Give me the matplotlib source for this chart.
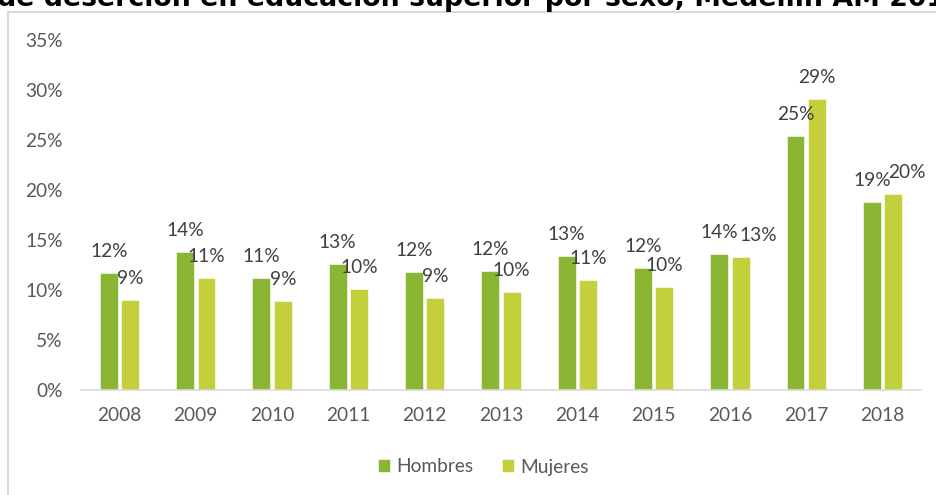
import matplotlib.pyplot as plt
from matplotlib.patches import Rectangle
import numpy as np

# Data
years = ['2008', '2009', '2010', '2011', '2012', '2013', '2014', '2015', '2016', '2017', '2018']
hombres = [11.7, 13.8, 11.2, 12.6, 11.8, 11.9, 13.4, 12.2, 13.6, 25.4, 18.8]
mujeres = [9.0, 11.2, 8.9, 10.1, 9.2, 9.8, 11.0, 10.3, 13.3, 29.1, 19.6]
labels_h = ['12%', '14%', '11%', '13%', '12%', '12%', '13%', '12%', '14%', '25%', '19%']
labels_m = ['9%', '11%', '9%', '10%', '9%', '10%', '11%', '10%', '13%', '29%', '20%']
yticks = [0, 5, 10, 15, 20, 25, 30, 35]

c_h = '#8BB634'
c_m = '#C3D03C'
txt = '#595959'

plt.rcParams['font.family'] = ['Lato', 'DejaVu Sans']

fig = plt.figure(figsize=(9.36, 4.95), dpi=100)

# chart border (partially outside the image)
fig.patches.append(Rectangle((8 / 936, -0.1), 1.2, 1 - 12 / 495 + 0.1,
                             transform=fig.transFigure, fill=False,
                             edgecolor='#D9D9D9', linewidth=1.5))

# title, cropped by the image top edge
fig.text(-3 / 936, 1 - 5.5 / 495, 'de deserción en educación superior por sexo, Medellín AM 201',
         ha='left', va='baseline', fontsize=19.3, fontweight='bold',
         family='DejaVu Sans', color='black')

ax = fig.add_axes([81.35 / 936, 1 - 390 / 495, 839.3 / 936, 350 / 495])

x = np.arange(len(years))
w = 0.235
off = 0.14
b1 = ax.bar(x - off, hombres, w, color=c_h, edgecolor='white', linewidth=0.4, label='Hombres')
b2 = ax.bar(x + off, mujeres, w, color=c_m, edgecolor='white', linewidth=0.4, label='Mujeres')

for i in range(len(years)):
    ax.annotate(labels_h[i], (x[i] - off, hombres[i]), xytext=(0, 11.5), textcoords='offset points',
                ha='center', va='baseline', fontsize=13.8, color='#404040')
    # labels nudged right where they would collide, as in the source chart
    dx = {8: 13, 10: 9.5}.get(i, 0)
    ax.annotate(labels_m[i], (x[i] + off, mujeres[i]), xytext=(dx, 11.5), textcoords='offset points',
                ha='center', va='baseline', fontsize=13.8, color='#404040')

ax.set_xlim(-0.5, len(years) - 0.5)
ax.set_ylim(0, 35)
ax.set_xticks(x)
ax.set_xticklabels(years)
ax.set_yticks(yticks)
ax.set_yticklabels([f'{v}%' for v in yticks])
ax.tick_params(axis='both', length=0, labelsize=13.8, labelcolor=txt)
ax.tick_params(axis='y', pad=13.5)
ax.tick_params(axis='x', pad=12)
for s in ['top', 'right', 'left']:
    ax.spines[s].set_visible(False)
ax.spines['bottom'].set_color('#D9D9D9')
ax.spines['bottom'].set_linewidth(1.2)

leg = fig.legend(handles=[b1, b2], labels=['Hombres', 'Mujeres'], loc='center',
                 bbox_to_anchor=(483 / 936, 1 - 467 / 495), ncol=2, frameon=False,
                 fontsize=13.8, handlelength=0.65, handleheight=0.65, handletextpad=0.3,
                 columnspacing=1.5)
for t in leg.get_texts():
    t.set_color(txt)

fig.savefig('out.png', dpi=100)
